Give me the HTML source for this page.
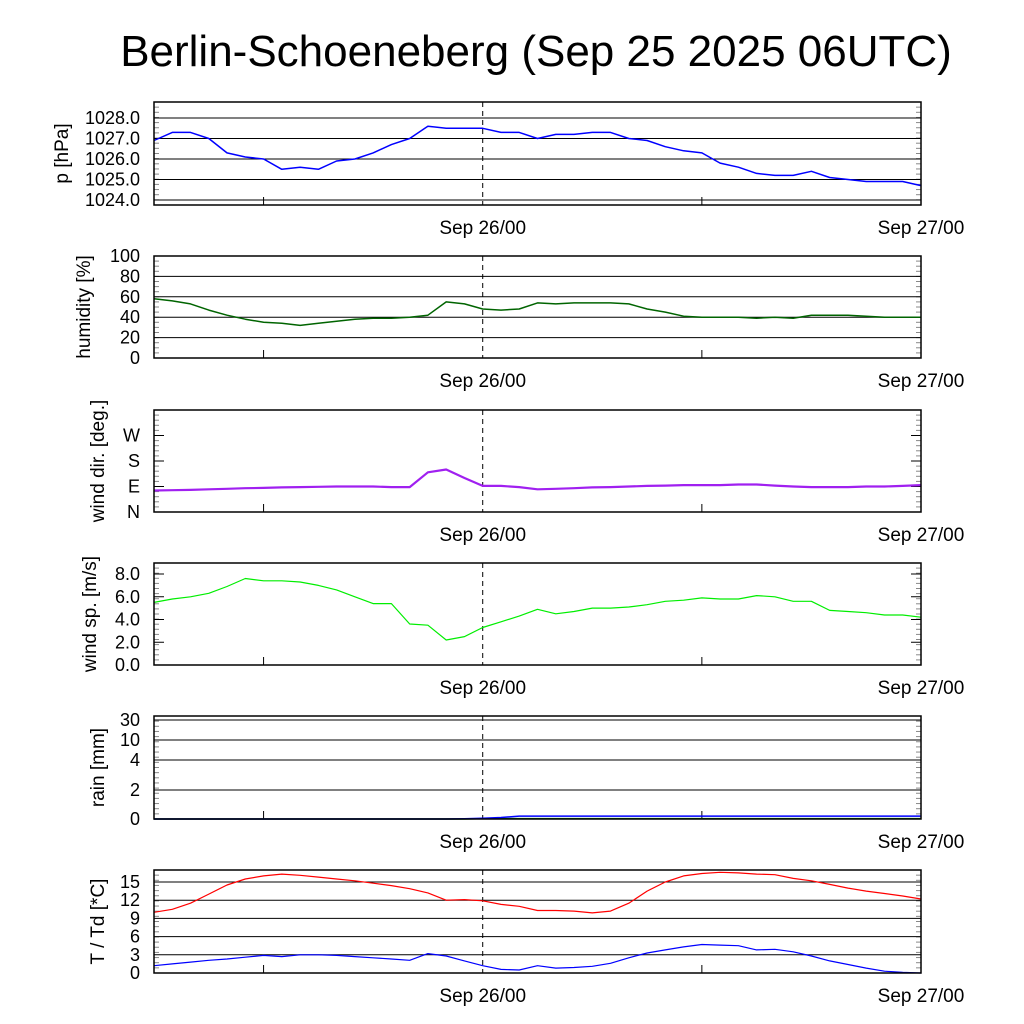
<!DOCTYPE html>
<html><head><meta charset="utf-8">
<style>
html,body{margin:0;padding:0;background:#fff;}
svg{display:block;font-family:"Liberation Sans",sans-serif;}
</style></head>
<body>
<svg id="chart" width="1024" height="1024" viewBox="0 0 1024 1024" xmlns="http://www.w3.org/2000/svg">
<text x="536" y="66" font-size="44" text-anchor="middle">Berlin-Schoeneberg (Sep 25 2025 06UTC)</text>
<g id="panels"></g>
</svg>
<script>
const hours = [0,1,2,3,4,5,6,7,8,9,10,11,12,13,14,15,16,17,18,19,20,21,22,23,24,25,26,27,28,29,30,31,32,33,34,35,36,37,38,39,40,41,42];
const timeLabels = ["Sep 26/00","Sep 27/00"];
const timeLabelHours = [18,42];
const pressure = [1026.9,1027.3,1027.3,1027.0,1026.3,1026.1,1026.0,1025.5,1025.6,1025.5,1025.9,1026.0,1026.3,1026.7,1027.0,1027.6,1027.5,1027.5,1027.5,1027.3,1027.3,1027.0,1027.2,1027.2,1027.3,1027.3,1027.0,1026.9,1026.6,1026.4,1026.3,1025.8,1025.6,1025.3,1025.2,1025.2,1025.4,1025.1,1025.0,1024.9,1024.9,1024.9,1024.7];
const humidity = [58,56,53,47,42,38,35,34,32,34,36,38,39,39,40,42,55,53,48,47,48,54,53,54,54,54,53,48,45,41,40,40,40,39,40,39,42,42,42,41,40,40,40];
const windDir = [76,77,78,80,82,84,85,87,88,89,90,90,90,88,88,140,150,120,92,92,88,80,82,84,87,88,90,92,93,95,95,95,97,97,93,90,88,88,88,90,90,92,95];
const windSpeed = [5.5,5.8,6.0,6.3,6.9,7.6,7.4,7.4,7.3,7.0,6.6,6.0,5.4,5.4,3.6,3.5,2.2,2.5,3.3,3.8,4.3,4.9,4.5,4.7,5.0,5.0,5.1,5.3,5.6,5.7,5.9,5.8,5.8,6.1,6.0,5.6,5.6,4.8,4.7,4.6,4.4,4.4,4.2];
const rainBlue = [0,0,0,0,0,0,0,0,0,0,0,0,0,0,0,0,0,0.02,0.05,0.1,0.2,0.2,0.2,0.2,0.2,0.2,0.2,0.2,0.2,0.2,0.2,0.2,0.2,0.2,0.2,0.2,0.2,0.2,0.2,0.2,0.2,0.2,0.2];
const rainGreen = [0,0,0,0,0,0,0,0,0,0,0,0,0,0,0,0,0,0,0.03,0.03,0.03,0.03,0.03,0.03,0.03,0.03,0.03,0.03,0.03,0.03,0.03,0.03,0.03,0.03,0.03,0.03,0.03,0.03,0.03,0.03,0.03,0.03,0.03];
const temp = [10,10.5,11.5,13,14.5,15.5,16.0,16.3,16.1,15.8,15.5,15.2,14.8,14.4,13.9,13.2,12.0,12.1,11.9,11.3,11.0,10.3,10.3,10.2,9.9,10.2,11.5,13.5,15.0,16.0,16.4,16.6,16.5,16.3,16.2,15.6,15.2,14.6,14.0,13.5,13.1,12.7,12.2];
const dew = [1.2,1.5,1.8,2.1,2.3,2.6,2.9,2.7,3.0,3.0,2.9,2.7,2.5,2.3,2.1,3.2,2.8,2.0,1.2,0.6,0.5,1.2,0.8,0.9,1.1,1.6,2.5,3.3,3.8,4.3,4.7,4.6,4.5,3.8,3.9,3.5,2.8,2.0,1.4,0.8,0.3,0.1,0];
const pTicks = [1028,1027,1026,1025,1024];
const hTicks = [100,80,60,40,20,0];
const dirTickVals = [270,180,90,0];
const dirTickLabels = ["W","S","E","N"];
const wsTicks = [8,6,4,2,0];
const rainTicks = [30,10,4,2,0];
const tTicks = [15,12,9,6,3,0];

const NS="http://www.w3.org/2000/svg";
const X0=154,X1=921,H0=0,H1=42;
const xs = h => X0+(h-H0)/(H1-H0)*(X1-X0);
const lin = (d0,d1,r0,r1)=> v => r0+(v-d0)/(d1-d0)*(r1-r0);
const root=document.getElementById('panels');
function el(tag,attrs,parent){const e=document.createElementNS(NS,tag);for(const k in attrs)e.setAttribute(k,attrs[k]);(parent||root).appendChild(e);return e;}

function panel(name,top,bot,ys,ticks,tickLabels,grid,ylabel,ylabelX,series){
  const g=el('g',{});
  
  
  for(let i=1;i<20;i++){const y=top+(bot-top)*i/20;
    el('line',{x1:X0,x2:X0+5,y1:y,y2:y,stroke:'#888','stroke-width':1},g);
    el('line',{x1:X1-5,x2:X1,y1:y,y2:y,stroke:'#888','stroke-width':1},g);}
  ticks.forEach((t,i)=>{const y=ys(t);
    if(grid) el('line',{x1:X0,x2:X1,y1:y,y2:y,stroke:'#000','stroke-width':1},g);
    else {el('line',{x1:X0,x2:X0+10,y1:y,y2:y,stroke:'#000'},g);el('line',{x1:X1-10,x2:X1,y1:y,y2:y,stroke:'#000'},g);}
    const tx=el('text',{x:140,y:y+6,'font-size':18,'text-anchor':'end'},g);
    tx.textContent=tickLabels[i];
    
    
  });
  [6,30].forEach(h=>el('line',{x1:xs(h),x2:xs(h),y1:bot-8,y2:bot,stroke:'#000'},g));
  el('line',{x1:xs(18),x2:xs(18),y1:top,y2:bot,stroke:'#000','stroke-dasharray':'5,4'},g);
  series.forEach(s=>{
    const d=s.vals.map((v,i)=>(i?'L':'M')+xs(hours[i]).toFixed(1)+','+ys(v).toFixed(1)).join(' ');
    const p=el('path',{d:d,fill:'none',stroke:s.color,'stroke-width':s.w||1.5,'stroke-linejoin':'round'},g);
    
    
  });
  el('rect',{x:X0,y:top,width:X1-X0,height:bot-top,fill:'none',stroke:'#000','stroke-width':1.5},g);
  const yl=el('text',{x:0,y:0,'font-size':19,'text-anchor':'middle',transform:`translate(${ylabelX},${(top+bot)/2}) rotate(-90)`},g);
  yl.textContent=ylabel;
  
  
  timeLabels.forEach((t,i)=>{
    const tx=el('text',{x:xs(timeLabelHours[i]),y:bot+29,'font-size':19,'text-anchor':'middle'},g);
    tx.textContent=t;
    
    
  });
}
const fmt1=a=>a.map(v=>v.toFixed(1));
panel('pressure',102,205,lin(1024,1028,200,118),pTicks,fmt1(pTicks),true,'p [hPa]',68,[{vals:pressure,color:'#0000ff',name:'pressure-line'}]);
panel('humidity',256,358,lin(0,100,358,256),hTicks,hTicks.map(String),true,'humidity [%]',90,[{vals:humidity,color:'#006400',name:'humidity-line'}]);
panel('wind-dir',410,512,lin(0,360,512,410),dirTickVals,dirTickLabels,false,'wind dir. [deg.]',104,[{vals:windDir,color:'#a020f0',name:'wind-dir-line',w:2.2}]);
panel('wind-speed',563,665,lin(0,8,665,574),wsTicks,fmt1(wsTicks),false,'wind sp. [m/s]',96,[{vals:windSpeed,color:'#00ee00',name:'wind-speed-line',w:1.2}]);
const rainD=[0,2,4,10,30],rainR=[819,790,760,740,720];
const rainY=v=>{for(let i=0;i<rainD.length-1;i++){if(v<=rainD[i+1])return rainR[i]+(v-rainD[i])/(rainD[i+1]-rainD[i])*(rainR[i+1]-rainR[i]);}return rainR[rainR.length-1];};
panel('rain',716,819,rainY,rainTicks,rainTicks.map(String),true,'rain [mm]',104,[{vals:rainGreen,color:'#008000',name:'rain-green-line'},{vals:rainBlue,color:'#0000ff',name:'rain-accum-line'}]);
panel('temperature',870,973,lin(0,15,973,882),tTicks,tTicks.map(String),true,'T / Td [*C]',104,[{vals:temp,color:'#ff0000',name:'temperature-line',w:1.2},{vals:dew,color:'#0000ff',name:'dewpoint-line',w:1.2}]);
</script>
</body></html>
